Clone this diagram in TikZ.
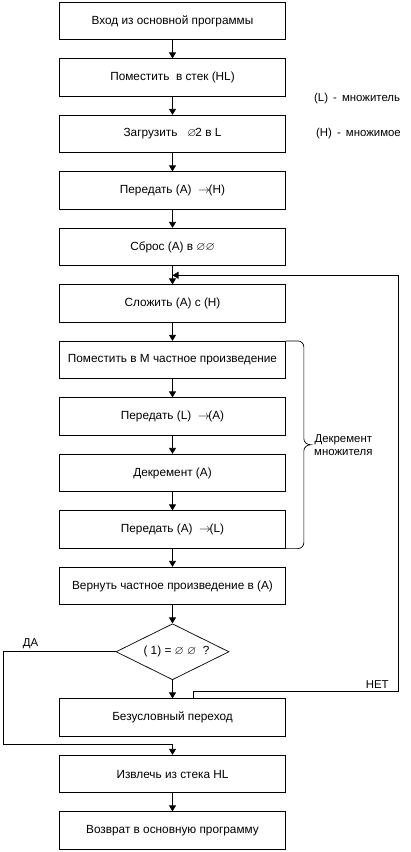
\documentclass[tikz,border=0pt]{standalone}
\usepackage{amssymb}
\usepackage{fontspec}
\setmainfont{Liberation Sans}
\usepackage{tikz}
\usetikzlibrary{arrows.meta, positioning, shapes.geometric, calc}

\newcommand{\sendto}{$\rightarrow$\kern-1.5pt}
\newcommand{\nul}{$\varnothing$}

\begin{document}
\begin{tikzpicture}[
  x=1pt, y=1pt,
  node distance=18.3pt,
  line width=0.7pt,
  box/.style={draw, font=\fontsize{11.8}{13}\selectfont, align=center,
              minimum width=226pt, minimum height=37.5pt, inner sep=2pt},
  cond/.style={draw, diamond, minimum width=113pt, minimum height=56pt,
               inner sep=0pt, font=\fontsize{11.8}{13}\selectfont},
  note/.style={font=\fontsize{11.4}{13}\selectfont, inner sep=1pt},
  arr/.style={-{Triangle[length=6pt, width=7pt]}}]
  \useasboundingbox (0,0) rectangle (410,-852);
  \node[box] (entry) at (172.5,-21) {Вход из основной программы};
  \node[box, below=of entry] (push) {Поместить \ в стек (HL)};
  \node[box, below=of push] (load) {Загрузить \ \ \nul\kern-1pt2 в L};
  \node[box, below=of load] (movah) {Передать (A) \ \sendto(H)};
  \node[box, below=of movah] (reset) {Сброс (A) в \nul\nul};
  \node[box, below=of reset] (add) {Сложить (A) с (H)};
  \node[box, below=of add] (save) {Поместить в M частное произведение};
  \node[box, below=of save] (movla) {Передать (L) \ \sendto(A)};
  \node[box, below=of movla] (dec) {Декремент (A)};
  \node[box, below=of dec] (moval) {Передать (A) \ \sendto(L)};
  \node[box, below=of moval] (restore) {Вернуть частное произведение в (A)};
  \node[cond, below=of restore] (test) {\makebox[0pt]{\hspace{8pt}( 1) = \nul\ \nul \ \ ?}};
  \node[box, below=of test] (jump) {Безусловный переход};
  \node[box, below=of jump] (pop) {Извлечь из стека HL};
  \node[box, below=of pop] (ret) {Возврат в основную программу};
  % notes on the right
  \node[note, anchor=west] (lnote) at ([xshift=27pt, yshift=-2pt]push.south east) {(L) \,-\, множитель};
  \node[note, anchor=west] (hnote) at ([xshift=29pt]load.east) {(H) \,-\, множимое};
  % main flow
  \draw[arr] (entry) -- (push);
  \draw[arr] (push) -- (load);
  \draw[arr] (load) -- (movah);
  \draw[arr] (movah) -- (reset);
  \draw[arr] (reset) -- (add);
  \draw[arr] (add) -- (save);
  \draw[arr] (save) -- (movla);
  \draw[arr] (movla) -- (dec);
  \draw[arr] (dec) -- (moval);
  \draw[arr] (moval) -- (restore);
  \draw[arr] (restore) -- (test);
  \draw[arr] (test) -- (jump);
  \draw[arr] (pop) -- (ret);
  % loop back
  \coordinate (merge) at ($(reset.south)!0.5!(add.north)$);
  \draw[arr] ([xshift=21pt]jump.north) -- ++(0,7) -- ++(204.5,0)
        node[note, above left, inner sep=3pt, xshift=-6pt] (no) {НЕТ} |- (merge);
  % exit
  \draw[arr] (test.west) -- node[note, above, pos=0.76, inner sep=3pt] (yes) {ДА} ++(-112,0)
        |- ([yshift=11pt]pop.north) -- (pop.north);
  % brace
  \coordinate (btop) at ([xshift=18pt]save.north east);
  \coordinate (bbot) at ([xshift=18pt]moval.south east);
  \coordinate (bmid) at ($(btop)!0.5!(bbot)$);
  \draw (save.north east) -- ([xshift=-6pt]btop) to[out=0,in=90] ([yshift=-6pt]btop)
        -- ([yshift=6pt]bmid) to[out=-90,in=180] ([xshift=7pt]bmid)
        to[out=180,in=90] ([yshift=-6pt]bmid) -- ([yshift=6pt]bbot)
        to[out=-90,in=0] ([xshift=-6pt]bbot) -- (moval.south east);
  \node[note, align=center, right=9pt of bmid] (declbl) {Декремент\\множителя};
\end{tikzpicture}
\end{document}
